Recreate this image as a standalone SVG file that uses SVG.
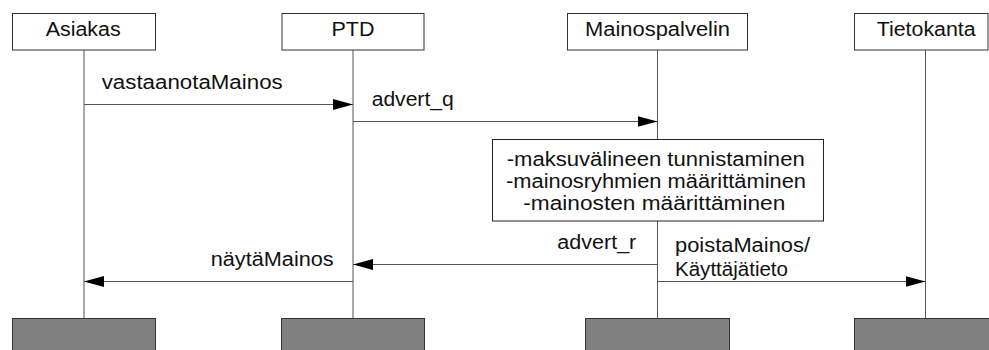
<svg xmlns="http://www.w3.org/2000/svg" width="989" height="350" viewBox="0 0 989 350">
  <style>
    .head { fill: #ffffff; stroke: #333333; stroke-width: 1; }
    .foot { fill: #808080; stroke: #333333; stroke-width: 1; }
    .life { stroke: #555555; stroke-width: 1; fill: none; }
    .msg { stroke: #555555; stroke-width: 1; fill: none; marker-end: url(#arr); }
    .note { fill: #ffffff; stroke: #222222; stroke-width: 1; }
    text { font-family: "Liberation Sans", Arial, sans-serif; font-size: 20px; fill: #111111; }
    .small { font-size: 19.5px; }
  </style>
  <defs>
    <marker id="arr" viewBox="0 0 20 12" refX="20" refY="6" markerWidth="20" markerHeight="12" orient="auto" markerUnits="userSpaceOnUse">
      <path d="M0,0.5 L20,6 L0,11.5 z" fill="#000000"/>
    </marker>
  </defs>

  <!-- lifelines -->
  <g id="lifelines">
    <line class="life" x1="84" y1="50" x2="84" y2="318"/>
    <line class="life" x1="353" y1="50" x2="353" y2="318"/>
    <line class="life" x1="657.5" y1="50" x2="657.5" y2="318"/>
    <line class="life" x1="925.5" y1="50" x2="925.5" y2="318"/>
  </g>

  <!-- participants -->
  <g id="asiakas">
    <rect class="head" x="12.5" y="13.5" width="143" height="36.5"/>
    <text x="45.7" y="36" textLength="75" lengthAdjust="spacingAndGlyphs">Asiakas</text>
    <rect class="foot" x="12.5" y="318.5" width="143" height="40"/>
  </g>
  <g id="ptd">
    <rect class="head" x="282" y="13.5" width="142" height="36.5"/>
    <text x="331.5" y="36" textLength="43" lengthAdjust="spacingAndGlyphs">PTD</text>
    <rect class="foot" x="281.5" y="318.5" width="143" height="40"/>
  </g>
  <g id="mainospalvelin">
    <rect class="head" x="567.5" y="13.5" width="180" height="36.5"/>
    <text x="585" y="36" textLength="145" lengthAdjust="spacingAndGlyphs">Mainospalvelin</text>
    <rect class="foot" x="585.5" y="318.5" width="144" height="40"/>
  </g>
  <g id="tietokanta">
    <rect class="head" x="854.5" y="13.5" width="133.5" height="36.5"/>
    <text x="876.7" y="36" textLength="99" lengthAdjust="spacingAndGlyphs">Tietokanta</text>
    <rect class="foot" x="854.5" y="318.5" width="150" height="40"/>
  </g>

  <!-- processing note on Mainospalvelin -->
  <g id="kasittely">
    <rect class="note" x="492.5" y="139.5" width="331" height="81.5"/>
    <text class="small" x="506.7" y="166" textLength="298" lengthAdjust="spacingAndGlyphs">-maksuvälineen tunnistaminen</text>
    <text class="small" x="506" y="188" textLength="300" lengthAdjust="spacingAndGlyphs">-mainosryhmien määrittäminen</text>
    <text class="small" x="523.3" y="210" textLength="262" lengthAdjust="spacingAndGlyphs">-mainosten määrittäminen</text>
  </g>

  <!-- messages -->
  <g id="connectors">
    <line class="msg" x1="84" y1="104.5" x2="353" y2="104.5"/>
    <line class="msg" x1="353" y1="121.5" x2="657.5" y2="121.5"/>
    <line class="msg" x1="657.5" y1="264.5" x2="353" y2="264.5"/>
    <line class="msg" x1="353" y1="281.5" x2="84" y2="281.5"/>
    <line class="msg" x1="657.5" y1="281.5" x2="925.5" y2="281.5"/>
  </g>

  <g id="labels">
    <text x="101.7" y="88.5" textLength="181" lengthAdjust="spacingAndGlyphs">vastaanotaMainos</text>
    <text x="371.7" y="106" textLength="82" lengthAdjust="spacingAndGlyphs">advert_q</text>
    <text x="557.3" y="249" textLength="79" lengthAdjust="spacingAndGlyphs">advert_r</text>
    <text x="210.7" y="266" textLength="123" lengthAdjust="spacingAndGlyphs">näytäMainos</text>
    <text x="675" y="252" textLength="135" lengthAdjust="spacingAndGlyphs">poistaMainos/</text>
    <text x="675" y="276" textLength="113" lengthAdjust="spacingAndGlyphs">Käyttäjätieto</text>
  </g>
</svg>
